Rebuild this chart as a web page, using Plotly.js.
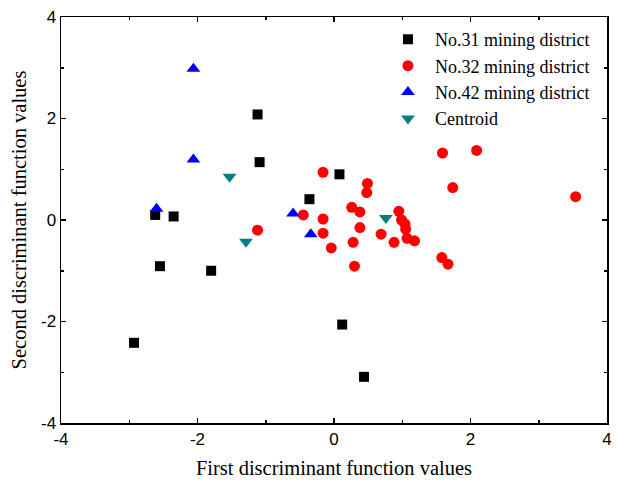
<!DOCTYPE html>
<html>
<head>
<meta charset="utf-8">
<script src="https://cdn.plot.ly/plotly-3.0.1.min.js"></script>
<style>html,body{margin:0;padding:0;background:#fff;}#chart{width:617px;height:482px;}</style>
</head>
<body>
<div id="chart"></div>
<script>
// No.31 mining district
const d31x = [-1.12, -1.09, 0.08, -0.36, -2.62, -2.35, -2.55, -1.80, -2.93, 0.12, 0.44];
const d31y = [2.08, 1.14, 0.90, 0.41, 0.10, 0.07, -0.91, -1.00, -2.42, -2.06, -3.09];
// No.32 mining district
const d32x = [-1.12, -0.45, -0.16, -0.16, -0.16, -0.04, 0.26, 0.38, 0.38, 0.28, 0.30, 0.49, 0.48, 0.69, 0.88, 0.95, 0.99, 1.04, 1.05, 1.07, 1.18, 1.58, 1.67, 1.59, 2.09, 1.74, 3.54];
const d32y = [-0.20, 0.10, 0.94, 0.02, -0.26, -0.55, 0.25, 0.16, -0.15, -0.44, -0.91, 0.72, 0.54, -0.28, -0.44, 0.17, 0.00, -0.08, -0.18, -0.36, -0.41, -0.74, -0.87, 1.32, 1.37, 0.64, 0.46];
// No.42 mining district
const d42x = [-2.06, -2.06, -2.60, -0.60, -0.34];
const d42y = [2.98, 1.19, 0.22, 0.13, -0.28];
// Centroids
const cenX = [-1.53, -1.29, 0.76];
const cenY = [0.85, -0.43, 0.04];

const names = ['No.31 mining district', 'No.32 mining district', 'No.42 mining district', 'Centroid'];

// Axis tick labels (hyphen minus as in the original)
const tickVals = [-4, -2, 0, 2, 4];
const tickText = ['-4', '-2', '0', '2', '4'];
const minorVals = [-3, -1, 1, 3];

const traces = [
  {x: d31x, y: d31y, name: names[0], mode: 'markers', type: 'scatter',
   marker: {symbol: 'square', size: 10, color: '#000000'}},
  {x: d32x, y: d32y, name: names[1], mode: 'markers', type: 'scatter',
   marker: {symbol: 'circle', size: 11, color: '#ff0000'}},
  {x: d42x, y: d42y, name: names[2], mode: 'markers', type: 'scatter',
   marker: {symbol: 'triangle-up', size: 12, color: '#0000ff'}},
  {x: cenX, y: cenY, name: names[3], mode: 'markers', type: 'scatter',
   marker: {symbol: 'triangle-down', size: 12, color: '#008080'}}
];

const axisCommon = {
  range: [-4, 4], tickmode: 'array', tickvals: tickVals, ticktext: tickText,
  showgrid: false, zeroline: false,
  showline: true, linecolor: '#000', linewidth: 1.5, mirror: 'allticks',
  ticks: 'inside', ticklen: 5, tickwidth: 1.5, tickcolor: '#000',
  minor: {tickmode: 'array', tickvals: minorVals, ticks: 'inside', ticklen: 3, tickwidth: 1.5, tickcolor: '#000', showgrid: false},
  tickfont: {family: 'Liberation Sans, Arial, sans-serif', size: 17, color: '#000'}
};

const titleFont = {family: 'Liberation Serif, Times New Roman, serif', size: 20.5, color: '#000'};

const layout = {
  width: 617, height: 482,
  margin: {l: 61, r: 10, t: 17, b: 59},
  paper_bgcolor: '#fff', plot_bgcolor: '#fff',
  showlegend: true,
  legend: {
    x: 0.586, y: 0.99, xanchor: 'left', yanchor: 'top',
    bgcolor: 'rgba(0,0,0,0)', borderwidth: 0,
    font: {family: 'Liberation Serif, Times New Roman, serif', size: 18, color: '#000'},
    tracegroupgap: 0, itemwidth: 44
  },
  xaxis: Object.assign({}, axisCommon, {
    title: {text: 'First discriminant function values', standoff: 12, font: titleFont}
  }),
  yaxis: Object.assign({}, axisCommon, {
    title: {text: 'Second discriminant function values', standoff: 9, font: titleFont}
  })
};

Plotly.newPlot('chart', traces, layout, {displayModeBar: false, staticPlot: true});
</script>
</body>
</html>
